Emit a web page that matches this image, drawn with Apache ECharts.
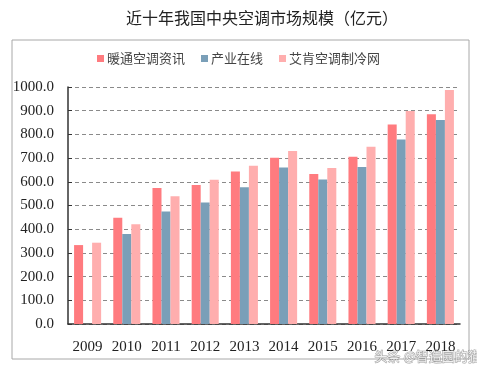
<!DOCTYPE html>
<html>
<head>
<meta charset="utf-8">
<script src="https://cdn.jsdelivr.net/npm/echarts@6/dist/echarts.min.js"></script>
<style>html,body{margin:0;padding:0;background:#fff;}#c{width:477px;height:372px;}</style>
</head>
<body>
<div id="c"></div>
<script>
var years = ['2009','2010','2011','2012','2013','2014','2015','2016','2017','2018'];
var seriesNames = ['暖通空调资讯','产业在线','艾肯空调制冷网'];
var hvacInfo = [333, 448, 574, 586, 643, 702, 633, 706, 842, 885];
var chinaIol = [null, 380, 475, 513, 577, 660, 610, 662, 779, 861];
var aiken = [343, 421, 539, 609, 668, 730, 658, 748, 899, 987];
var colors = ['#FF7B7F', '#7A9FB8', '#FFAEAE'];

var chart = echarts.init(document.getElementById('c'));
var serif = '"Liberation Serif","DejaVu Serif",serif';
var cjk = '"Noto Sans CJK SC","Noto Sans",sans-serif';
chart.setOption({
  animation: false,
  backgroundColor: '#fff',
  title: {
    text: '近十年我国中央空调市场规模（亿元）',
    left: 121, top: 5,
    textStyle: {fontFamily: cjk, fontSize: 16, fontWeight: 'normal', color: '#222'}
  },
  legend: {
    top: 47, left: 'center',
    itemWidth: 7, itemHeight: 7, itemGap: 16,
    icon: 'rect',
    textStyle: {fontFamily: cjk, fontSize: 13, color: '#444', padding: [0,0,0,-2]},
    data: seriesNames
  },
  graphic: [
    {type: 'rect', shape: {x: 12, y: 40, width: 457, height: 319}, style: {fill: 'none', stroke: '#A8A8A8', lineWidth: 1}, z: -1},
    {type: 'text', left: 374, top: 349, style: {text: '头条 @智造园的猫', fontFamily: cjk, fontSize: 13, fill: 'rgba(255,255,255,0.85)', stroke: 'rgba(90,90,90,0.6)', lineWidth: 1}}
  ],
  grid: {left: 68, right: 17, top: 87, bottom: 48},
  xAxis: {
    type: 'category', data: years,
    axisLine: {lineStyle: {color: '#333', width: 1.5}},
    axisTick: {inside: true, length: 5, lineStyle: {color: '#333'}},
    axisLabel: {fontFamily: serif, fontSize: 15, color: '#222', margin: 16}
  },
  yAxis: {
    type: 'value', min: 0, max: 1000, interval: 100,
    axisLine: {show: true, lineStyle: {color: '#333', width: 1.5}},
    axisTick: {show: true, inside: true, length: 4, lineStyle: {color: '#333'}},
    axisLabel: {fontFamily: serif, fontSize: 15, color: '#222', margin: 14, formatter: function (v) { return v.toFixed(1); }},
    splitLine: {lineStyle: {color: '#8a8a8a', type: [4, 3], width: 1}}
  },
  series: [
    {name: seriesNames[0], type: 'bar', data: hvacInfo, itemStyle: {color: colors[0]}, barGap: '0%', barCategoryGap: '31%'},
    {name: seriesNames[1], type: 'bar', data: chinaIol, itemStyle: {color: colors[1]}, barGap: '0%', barCategoryGap: '31%'},
    {name: seriesNames[2], type: 'bar', data: aiken, itemStyle: {color: colors[2]}, barGap: '0%', barCategoryGap: '31%'}
  ]
});
</script>
</body>
</html>
